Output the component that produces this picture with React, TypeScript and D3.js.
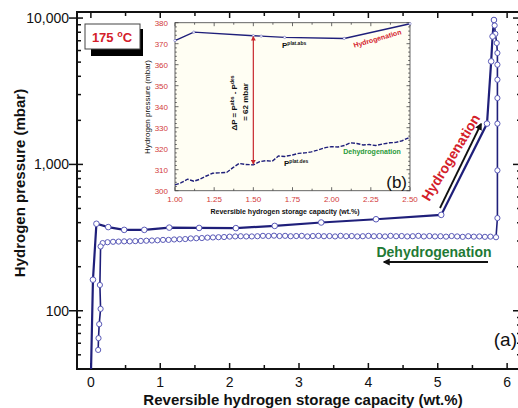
import React from "react";
import * as d3 from "d3";

// ---------- main chart data ----------
const xTicks = [0, 1, 2, 3, 4, 5, 6];
const yTicks = [100, 1000, 10000];
const yTickLabels = ["100", "1,000", "10,000"];

// hydrogenation (absorption) branch
const absX = [0.0, 0.03, 0.08, 0.25, 0.48, 0.77, 1.13, 1.56, 2.09, 2.65, 3.32, 4.11, 5.05, 5.71, 5.77, 5.79, 5.81];
const absP = [35, 163, 393, 373, 357, 357, 370, 368, 367, 380, 401, 422, 452, 1900, 5060, 7490, 9700];

// dehydrogenation (desorption) branch
const desX = [5.81, 5.82, 5.83, 5.85, 5.86, 5.86, 5.86, 5.86, 5.86, 5.86, 5.86, 5.84,
  5.76, 5.68, 5.60, 5.52, 5.44, 5.36, 5.28, 5.20, 5.12, 5.04, 4.96, 4.88, 4.80, 4.72, 4.64, 4.56, 4.48, 4.40,
  4.32, 4.24, 4.16, 4.08, 4.00, 3.92, 3.84, 3.76, 3.68, 3.60, 3.52, 3.44, 3.36, 3.28, 3.20, 3.12, 3.04, 2.96,
  2.88, 2.80, 2.72, 2.64, 2.56, 2.48, 2.40, 2.32, 2.24, 2.16, 2.08, 2.00, 1.92, 1.84, 1.76, 1.68, 1.60, 1.52,
  1.44, 1.36, 1.28, 1.20, 1.12, 1.04, 0.96, 0.88, 0.80, 0.72, 0.64, 0.56, 0.48, 0.40, 0.32, 0.24, 0.17,
  0.14, 0.13, 0.14, 0.12, 0.11, 0.105];
const desP = [9700, 8900, 7800, 6750, 5770, 4800, 3790, 2840, 1900, 910, 430, 318,
  321, 320, 322, 321, 323, 320, 322, 324, 321, 323, 322, 324, 322, 325, 323, 322, 324, 323,
  325, 322, 324, 323, 325, 323, 322, 324, 323, 325, 322, 324, 323, 325, 324, 322, 325, 324,
  323, 325, 324, 326, 324, 325, 323, 322, 322, 323, 322, 321, 319, 318, 317, 316, 314, 313,
  312, 309, 308, 307, 305, 305, 303, 302, 301, 300, 299, 298, 298, 297, 296, 294, 290,
  275, 150, 103, 81, 65, 54];

// ---------- inset data ----------
const insetXTicks = [1.0, 1.25, 1.5, 1.75, 2.0, 2.25, 2.5];
const insetXTickLabels = ["1.00", "1.25", "1.50", "1.75", "2.00", "2.25", "2.50"];
const insetYTicks = [300, 310, 320, 330, 340, 350, 360, 370, 380];

const inAbsX = [1.0, 1.12, 1.5, 1.55, 1.7, 2.08, 2.5];
const inAbsP = [371.5, 375.5, 373.8, 373.6, 373, 372.5, 379.5];

const inDesX = [1.0, 1.04, 1.08, 1.12, 1.16, 1.2, 1.24, 1.28, 1.33, 1.37, 1.41, 1.45, 1.5, 1.54, 1.58, 1.62,
  1.66, 1.7, 1.75, 1.79, 1.83, 1.87, 1.91, 1.96, 2.0, 2.04, 2.08, 2.12, 2.16, 2.2, 2.24, 2.28, 2.33, 2.37,
  2.41, 2.45, 2.5];
const inDesP = [302.8, 303.8, 305.5, 304.5, 305.5, 307, 308.3, 308.5, 308.7, 311, 313, 312.5, 312.3, 313.8,
  314.3, 314, 316.5, 316.3, 317, 317.8, 318, 318.5, 319.3, 320.5, 321, 320.8, 321.5, 322.8, 322.5, 321.8,
  322, 321.5, 322.3, 322.8, 323, 323.8, 325.5];

const deltaAt = 1.5;
const deltaTop = 373.8;
const deltaBottom = 312.3;

const FONT = "Arial, 'Liberation Sans', sans-serif";
const NAVY = "#1f1f7a";
const MARK = "#5a5ab8";

export default function App() {
  // main scales
  const left = 77, right = 521, top = 12, bottom = 369;
  const x = d3.scaleLinear().domain([-0.2, 6.2]).range([left, right]);
  const y = d3.scaleLog().domain([40, 11000]).range([bottom, top]);

  const absPts: [number, number][] = absX.map((v, i) => [v, absP[i]]);
  const desPts: [number, number][] = desX.map((v, i) => [v, desP[i]]);
  const line = d3.line<[number, number]>().x(d => x(d[0])).y(d => y(d[1]));

  const xMinor = d3.range(0, 6.01, 0.5);
  const yMinor: number[] = [];
  [10, 100, 1000, 10000].forEach(dec => {
    for (let k = 1; k < 10; k++) {
      const v = dec * k;
      if (v >= 40 && v <= 11000) yMinor.push(v);
    }
  });

  // inset scales
  const il = 175, ir = 410, it = 22.7, ib = 190.7;
  const xi = d3.scaleLinear().domain([1, 2.5]).range([il, ir]);
  const yi = d3.scaleLinear().domain([300, 380]).range([ib, it]);
  const iline = d3.line<[number, number]>().x(d => xi(d[0])).y(d => yi(d[1]));
  const inAbsPts: [number, number][] = inAbsX.map((v, i) => [v, inAbsP[i]]);
  const inDesPts: [number, number][] = inDesX.map((v, i) => [v, inDesP[i]]);
  const ixMinor = d3.range(1, 2.501, 0.125);
  const iyMinor = d3.range(300, 380.1, 2);

  return (
    <svg width={518} height={408} style={{ position: "absolute", left: 0, top: 0, display: "block", background: "#fff" }}
      fontFamily={FONT}>
      <defs>
        <clipPath id="mainClip">
          <rect x={left} y={top} width={right - left} height={bottom - top} />
        </clipPath>
        <marker id="blkHead" viewBox="0 0 10 10" refX="8" refY="5" markerWidth="4" markerHeight="4" orient="auto">
          <path d="M0,0 L10,5 L0,10 z" fill="#111" />
        </marker>
        <marker id="redHead" viewBox="0 0 10 10" refX="8" refY="5" markerWidth="4" markerHeight="4" orient="auto-start-reverse">
          <path d="M0,0 L10,5 L0,10 z" fill="#c8282d" />
        </marker>
      </defs>

      {/* main frame */}
      <rect x={left} y={top} width={right - left} height={bottom - top} fill="#fff" stroke="#111" strokeWidth={2} />

      {/* main x ticks */}
      {xMinor.map(v => {
        const major = Number.isInteger(v);
        const len = major ? 6 : 4;
        return (
          <g key={"xt" + v}>
            <line x1={x(v)} x2={x(v)} y1={bottom} y2={bottom - len} stroke="#111" strokeWidth={1.5} />
            <line x1={x(v)} x2={x(v)} y1={top} y2={top + len} stroke="#111" strokeWidth={1.5} />
          </g>
        );
      })}
      {xTicks.map(v => (
        <text key={"xl" + v} x={x(v)} y={bottom + 18} textAnchor="middle" fontSize={14} fill="#111">{v}</text>
      ))}

      {/* main y ticks */}
      {yMinor.map(v => {
        const major = yTicks.includes(v);
        return (
          <g key={"yt" + v}>
            <line x1={major ? left - 8 : left} x2={left + (major ? 6 : 4)} y1={y(v)} y2={y(v)} stroke="#111" strokeWidth={1.5} />
            <line x1={right} x2={right - (major ? 8 : 4)} y1={y(v)} y2={y(v)} stroke="#111" strokeWidth={1.5} />
          </g>
        );
      })}
      {yTicks.map((v, i) => (
        <text key={"yl" + v} x={left - 8} y={y(v) + 5} textAnchor="end" fontSize={14} fill="#111">{yTickLabels[i]}</text>
      ))}

      {/* axis titles */}
      <text x={303} y={405} textAnchor="middle" fontSize={15} fontWeight="bold" fill="#111">
        Reversible hydrogen storage capacity (wt.%)
      </text>
      <text transform="translate(25,183) rotate(-90)" textAnchor="middle" fontSize={15} fontWeight="bold" fill="#111">
        Hydrogen pressure (mbar)
      </text>

      {/* main curves */}
      <g clipPath="url(#mainClip)">
        <path d={line(desPts) || ""} fill="none" stroke={NAVY} strokeWidth={1.6} />
        <path d={line(absPts) || ""} fill="none" stroke={NAVY} strokeWidth={2.2} />
        {desPts.map((d, i) => (
          <circle key={"dm" + i} cx={x(d[0])} cy={y(d[1])} r={2.6} fill="#fff" stroke={MARK} strokeWidth={1} />
        ))}
        {absPts.map((d, i) => (
          <circle key={"am" + i} cx={x(d[0])} cy={y(d[1])} r={2.8} fill="#fff" stroke={MARK} strokeWidth={1} />
        ))}
      </g>

      {/* 175 °C box */}
      <rect x={91} y={29} width={52} height={27} fill="#000" />
      <rect x={85} y={24} width={55} height={25} fill="#fff" stroke="#444" strokeWidth={1} />
      <text x={112} y={42} textAnchor="middle" fontSize={13} fontWeight="bold" fill="#d4202a">
        175 <tspan fontSize={9} dy={-5}>o</tspan><tspan dy={5}>C</tspan>
      </text>

      {/* main annotations */}
      <text transform="translate(455,160) rotate(-58.5)" textAnchor="middle" fontSize={14} fontWeight="bold" fill="#d4202a">
        Hydrogenation
      </text>
      <line x1={440} y1={208} x2={481} y2={124} stroke="#111" strokeWidth={1.8} markerEnd="url(#blkHead)" />
      <text x={434} y={257} textAnchor="middle" fontSize={14} fontWeight="bold" fill="#1f7a35">Dehydrogenation</text>
      <line x1={488} y1={262} x2={384} y2={262} stroke="#111" strokeWidth={1.8} markerEnd="url(#blkHead)" />
      <text x={517} y={346} textAnchor="end" fontSize={19} fill="#111">(a)</text>

      {/* ---------- inset ---------- */}
      <rect x={il} y={it} width={ir - il} height={ib - it} fill="#fffef3" stroke="#555" strokeWidth={0.9} />
      {ixMinor.map((v, i) => {
        const len = i % 2 === 0 ? 3.5 : 2;
        return (
          <g key={"ixt" + i}>
            <line x1={xi(v)} x2={xi(v)} y1={ib} y2={ib - len} stroke="#444" strokeWidth={0.8} />
            <line x1={xi(v)} x2={xi(v)} y1={it} y2={it + len} stroke="#444" strokeWidth={0.8} />
          </g>
        );
      })}
      {iyMinor.map((v, i) => {
        const len = i % 5 === 0 ? 3.5 : 1.8;
        return (
          <g key={"iyt" + i}>
            <line x1={il} x2={il + len} y1={yi(v)} y2={yi(v)} stroke="#444" strokeWidth={0.8} />
            <line x1={ir} x2={ir - len} y1={yi(v)} y2={yi(v)} stroke="#444" strokeWidth={0.8} />
          </g>
        );
      })}
      {insetXTicks.map((v, i) => (
        <text key={"ixl" + i} x={xi(v)} y={ib + 11} textAnchor="middle" fontSize={8} fill="#d23a3a">{insetXTickLabels[i]}</text>
      ))}
      {insetYTicks.map(v => (
        <text key={"iyl" + v} x={il - 7} y={yi(v) + 3} textAnchor="end" fontSize={8} fill="#d23a3a">{v}</text>
      ))}
      <text x={285} y={214} textAnchor="middle" fontSize={7} fontWeight="bold" fill="#111">
        Reversible hydrogen storage capacity (wt.%)
      </text>
      <text transform="translate(150,107) rotate(-90)" textAnchor="middle" fontSize={8} fill="#111">
        Hydrogen pressure (mbar)
      </text>

      <path d={iline(inAbsPts) || ""} fill="none" stroke={NAVY} strokeWidth={1.4} />
      {inAbsPts.map((d, i) => (
        <circle key={"iam" + i} cx={xi(d[0])} cy={yi(d[1])} r={1.2} fill="#fff" stroke={MARK} strokeWidth={0.5} />
      ))}
      <path d={iline(inDesPts) || ""} fill="none" stroke={NAVY} strokeWidth={1.4} strokeDasharray="4 1.5" />

      {/* delta P arrow */}
      <line x1={xi(deltaAt)} x2={xi(deltaAt)} y1={yi(deltaTop) + 1} y2={yi(deltaBottom) - 1}
        stroke="#c8282d" strokeWidth={1.2} markerStart="url(#redHead)" markerEnd="url(#redHead)" />
      <text transform="translate(237,103) rotate(-90)" textAnchor="middle" fontSize={8} fontWeight="bold" fill="#111">
        ΔP = P<tspan fontSize={5} dy={-3}>abs</tspan><tspan dy={3}> - P</tspan><tspan fontSize={5} dy={-3}>des</tspan>
      </text>
      <text transform="translate(248,102) rotate(-90)" textAnchor="middle" fontSize={8} fontWeight="bold" fill="#111">
        = 62 mbar
      </text>

      <text x={282} y={48} fontSize={8} fontWeight="bold" fill="#111">
        P<tspan fontSize={5} dy={-3}>plat.abs</tspan>
      </text>
      <text x={284} y={166} fontSize={8} fontWeight="bold" fill="#111">
        P<tspan fontSize={5} dy={-3}>plat.des</tspan>
      </text>
      <text transform="translate(378,41) rotate(-16)" textAnchor="middle" fontSize={7} fontWeight="bold" fill="#d4202a">
        Hydrogenation
      </text>
      <text x={372} y={154} textAnchor="middle" fontSize={7} fontWeight="bold" fill="#2a9a3a">Dehydrogenation</text>
      <text x={407} y={188} textAnchor="end" fontSize={17} fill="#111">(b)</text>
    </svg>
  );
}
